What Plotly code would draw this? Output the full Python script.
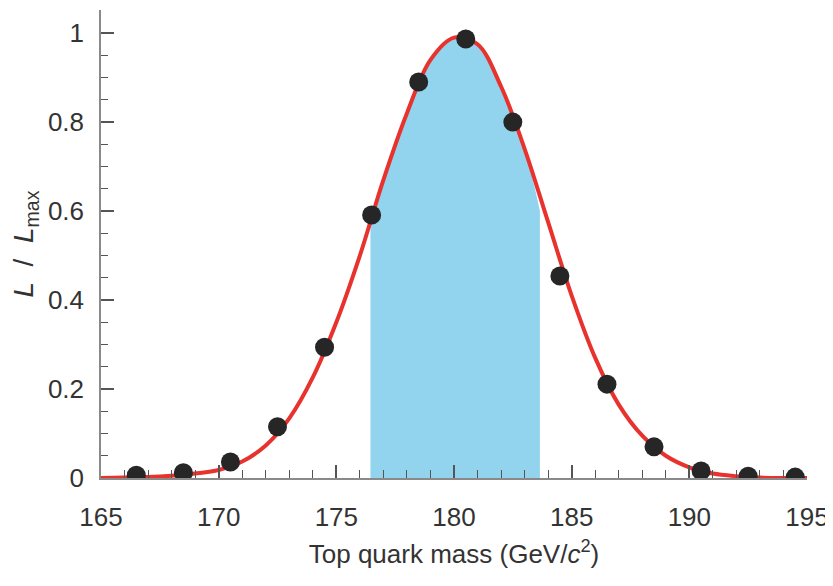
import plotly.graph_objects as go

# Measured likelihood points
point_mass = [166.5, 168.5, 170.5, 172.5, 174.5, 176.5, 178.5, 180.5,
              182.5, 184.5, 186.5, 188.5, 190.5, 192.5, 194.5]
point_like = [0.006, 0.012, 0.036, 0.115, 0.294, 0.591, 0.89, 0.987,
              0.80, 0.454, 0.211, 0.07, 0.016, 0.004, 0.002]

# Fitted curve
curve_mass = list(range(165, 196))
curve_like = [0.0, 0.001, 0.002, 0.005, 0.010, 0.018, 0.037, 0.073, 0.134, 0.226,
              0.35, 0.50, 0.67, 0.82, 0.94, 0.99, 0.975, 0.88, 0.74, 0.575,
              0.41, 0.27, 0.165, 0.095, 0.05, 0.024, 0.010, 0.004, 0.001, 0.0, 0.0]

# Shaded 1-sigma band
band_mass = [176.45, 177, 178, 179, 180, 181, 182, 183, 183.65]
band_like = [0.59, 0.67, 0.82, 0.94, 0.99, 0.975, 0.88, 0.74, 0.60]

x_ticks = [165, 170, 175, 180, 185, 190, 195]
y_ticks = [0, 0.2, 0.4, 0.6, 0.8, 1]
y_tick_text = ["0", "0.2", "0.4", "0.6", "0.8", "1"]

FONT = "Liberation Sans, Arial, sans-serif"

fig = go.Figure()
fig.add_trace(go.Scatter(x=band_mass, y=band_like, mode="lines",
                         line=dict(width=0, shape="spline", color="rgba(0,0,0,0)"),
                         fill="tozeroy", fillcolor="#92d4ee", hoverinfo="skip"))
fig.add_trace(go.Scatter(x=curve_mass, y=curve_like, mode="lines",
                         line=dict(color="#e8322e", width=4, shape="spline")))
fig.add_trace(go.Scatter(x=point_mass, y=point_like, mode="markers",
                         marker=dict(color="#262626", size=19, line=dict(width=0))))

axis_common = dict(showgrid=False, zeroline=False, showline=True, automargin=False,
                   linecolor="#8a8a8a", linewidth=1.5, ticks="inside",
                   tickcolor="#555555", tickwidth=1.5, ticklen=13,
                   tickfont=dict(family=FONT, size=26, color="#333333"))

fig.update_xaxes(range=[165, 195], tickvals=x_ticks, **axis_common,
                 minor=dict(dtick=1, tick0=165, ticks="inside", ticklen=8,
                            tickcolor="#555555", tickwidth=1.2),
                 ticklabelstandoff=15,
                 title=dict(text="Top quark mass (GeV/<i>c</i><sup>2</sup>)",
                            font=dict(family=FONT, size=26, color="#333333"),
                            standoff=14))
fig.update_yaxes(range=[0, 1.052], tickvals=y_ticks, ticktext=y_tick_text,
                 **axis_common,
                 minor=dict(dtick=0.05, tick0=0, ticks="inside", ticklen=7,
                            tickcolor="#555555", tickwidth=1.2),
                 ticklabelstandoff=10,
                 title=dict(text="<i>L</i>  /  <i>L</i><sub>max</sub>",
                            font=dict(family=FONT, size=28, color="#333333"),
                            standoff=10))

# The page body adds an 8 px margin; size the figure so the plot area lands
# where the reference has it and the page needs no scrollbar.
fig.update_layout(width=825, height=562, showlegend=False,
                  plot_bgcolor="white", paper_bgcolor="white",
                  margin=dict(l=93, r=26, t=2, b=92))

fig.write_html("out.html")
